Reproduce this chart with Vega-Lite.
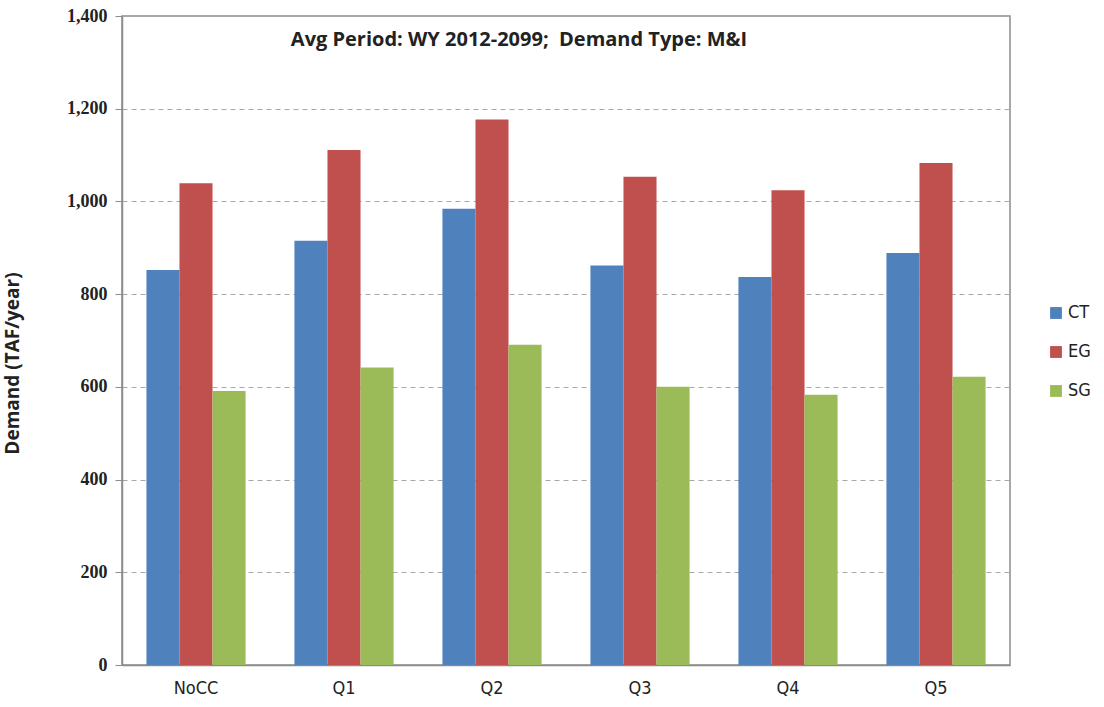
{
  "$schema": "https://vega.github.io/schema/vega-lite/v6.json",
  "autosize": {"type": "none"},
  "width": 888,
  "height": 649,
  "padding": {"left": 122, "top": 16, "right": 94, "bottom": 42},
  "background": "white",
  "config": {
    "font": "Open Sans",
    "view": {"stroke": "#8c8c8c", "strokeWidth": 1.5}
  },
  "title": {
    "text": "Avg Period: WY 2012-2099;\u00a0 Demand Type: M&I",
    "orient": "top",
    "anchor": "middle",
    "frame": "group",
    "dx": -47,
    "offset": -63,
    "baseline": "bottom",
    "fontSize": 20,
    "fontWeight": "bold",
    "font": "Open Sans",
    "color": "#222"
  },
  "data": {
    "values": [
      {"scenario": "NoCC", "type": "CT", "demand": 852},
      {"scenario": "NoCC", "type": "EG", "demand": 1039},
      {"scenario": "NoCC", "type": "SG", "demand": 591},
      {"scenario": "Q1", "type": "CT", "demand": 915},
      {"scenario": "Q1", "type": "EG", "demand": 1111},
      {"scenario": "Q1", "type": "SG", "demand": 642},
      {"scenario": "Q2", "type": "CT", "demand": 984},
      {"scenario": "Q2", "type": "EG", "demand": 1177},
      {"scenario": "Q2", "type": "SG", "demand": 691},
      {"scenario": "Q3", "type": "CT", "demand": 862},
      {"scenario": "Q3", "type": "EG", "demand": 1053},
      {"scenario": "Q3", "type": "SG", "demand": 600},
      {"scenario": "Q4", "type": "CT", "demand": 837},
      {"scenario": "Q4", "type": "EG", "demand": 1024},
      {"scenario": "Q4", "type": "SG", "demand": 583},
      {"scenario": "Q5", "type": "CT", "demand": 889},
      {"scenario": "Q5", "type": "EG", "demand": 1083},
      {"scenario": "Q5", "type": "SG", "demand": 622}
    ]
  },
  "layer": [
    {
      "mark": {"type": "bar"},
      "encoding": {
        "x": {
          "field": "scenario",
          "type": "nominal",
          "sort": null,
          "scale": {"paddingInner": 0.33, "paddingOuter": 0.165},
          "axis": {
            "title": null,
            "labelAngle": 0,
            "ticks": false,
            "labelPadding": 14,
            "labelFontSize": 18,
            "labelColor": "#222",
            "labelFont": "Liberation Sans Narrow, DejaVu Sans Condensed, sans-serif",
            "domainColor": "#8c8c8c",
            "domainWidth": 1.5
          }
        },
        "xOffset": {"field": "type", "type": "nominal", "sort": ["CT", "EG", "SG"]},
        "y": {
          "field": "demand",
          "type": "quantitative",
          "scale": {"domain": [0, 1400], "nice": false},
          "axis": {
            "title": "Demand (TAF/year)",
            "titleFont": "Open Sans",
            "titleFontSize": 19,
            "titleFontWeight": "bold",
            "titleColor": "#222",
            "titleX": -100,
            "titleY": 347,
            "values": [0, 200, 400, 600, 800, 1000, 1200, 1400],
            "format": ",d",
            "labelFont": "Liberation Serif",
            "labelFontSize": 18,
            "labelFontWeight": "bold",
            "labelColor": "#222",
            "labelPadding": 8,
            "tickSize": 7,
            "tickColor": "#8c8c8c",
            "domainColor": "#8c8c8c",
            "domainWidth": 1.5,
            "grid": true,
            "gridDash": [5, 4],
            "gridColor": "#a8a8a8",
            "gridWidth": 1
          }
        },
        "color": {
          "field": "type",
          "type": "nominal",
          "scale": {"domain": ["CT", "EG", "SG"], "range": ["#4f81bd", "#c0504d", "#9bbb59"]},
          "legend": {
            "title": null,
            "orient": "none",
            "legendX": 925,
            "legendY": 288,
            "symbolType": "square",
            "symbolSize": 140,
            "symbolStrokeWidth": 0,
            "labelFontSize": 18,
            "labelColor": "#222",
            "labelFont": "Liberation Sans Narrow, DejaVu Sans Condensed, sans-serif",
            "rowPadding": 21,
            "labelOffset": 3
          }
        }
      }
    }
  ]
}
